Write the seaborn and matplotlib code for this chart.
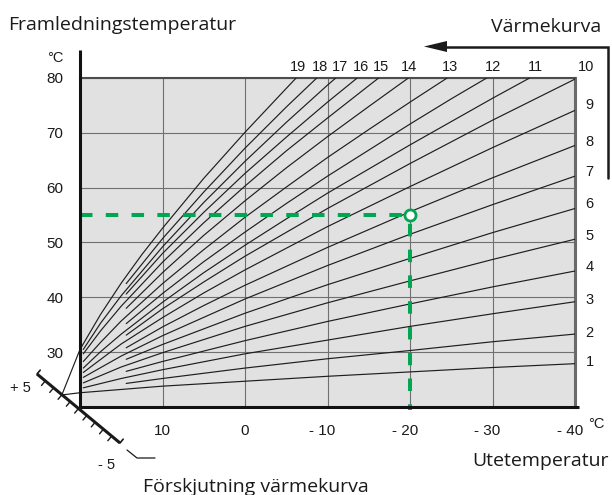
import matplotlib
matplotlib.use("Agg")
import matplotlib.pyplot as plt
import seaborn as sns
import pandas as pd
from matplotlib.transforms import ScaledTranslation
from matplotlib.patches import Polygon

# ---------------- data ----------------
k1_ute = [20, 15, 10, 0, -10, -20, -30, -40]
k1_fram = [22.6, 23.2, 23.8, 24.7, 25.6, 26.4, 27.2, 27.9]
k2_ute = [14.4, 10, 0, -10, -20, -30, -40]
k2_fram = [24.3, 25.2, 27.1, 28.8, 30.3, 31.9, 33.3]
k3_ute = [19.6, 15, 10, 0, -10, -20, -30, -40]
k3_fram = [23.5, 25.2, 26.8, 29.7, 32.2, 34.7, 37.0, 39.2]
k4_ute = [14.4, 10, 0, -10, -20, -30, -40]
k4_fram = [26.5, 28.3, 32.1, 35.6, 38.8, 41.9, 44.8]
k5_ute = [19.6, 15, 10, 0, -10, -20, -30, -40]
k5_fram = [24.4, 27.3, 29.9, 34.7, 39.0, 43.0, 46.9, 50.6]
k6_ute = [14.4, 10, 0, -10, -20, -30, -40]
k6_fram = [28.7, 31.4, 37.1, 42.3, 47.1, 51.8, 56.2]
k7_ute = [19.6, 15, 10, 0, -10, -20, -30, -40]
k7_fram = [25.4, 29.3, 33.0, 39.7, 45.8, 51.5, 56.9, 62.1]
k8_ute = [14.4, 10, 5, 0, -10, -20, -30, -40]
k8_fram = [30.8, 34.6, 38.5, 42.2, 49.1, 55.6, 61.8, 67.7]
k9_ute = [19.6, 15, 10, 5, 0, -10, -20, -30, -40]
k9_fram = [26.3, 31.5, 36.3, 40.8, 45.0, 52.9, 60.2, 67.3, 74.1]
k10_ute = [14.4, 10, 5, 0, -10, -20, -30, -40]
k10_fram = [33.1, 37.9, 42.8, 47.5, 56.2, 64.4, 72.3, 79.8]
k11_ute = [19.6, 17.5, 15, 10, 5, 0, -5, -10, -20, -30, -34.5]
k11_fram = [27.1, 30.1, 33.3, 39.1, 44.5, 49.5, 54.3, 59.0, 67.8, 76.3, 80]
k12_ute = [14.4, 10, 5, 0, -5, -10, -20, -25, -29.3]
k12_fram = [35.2, 40.7, 46.5, 51.9, 57.1, 62.1, 71.6, 76.2, 80]
k13_ute = [19.6, 17.5, 15, 10, 5, 0, -5, -10, -15, -20, -24.5]
k13_fram = [28.3, 31.8, 35.7, 42.5, 48.7, 54.6, 60.1, 65.5, 70.6, 75.6, 80]
k14_ute = [14.4, 10, 5, 0, -5, -10, -15, -19.8]
k14_fram = [38.0, 44.5, 51.3, 57.6, 63.6, 69.3, 74.8, 80]
k15_ute = [19.6, 17.5, 15, 10, 5, 0, -5, -10, -15, -16.2]
k15_fram = [29.7, 33.9, 38.4, 46.4, 53.6, 60.3, 66.7, 72.7, 78.6, 80]
k16_ute = [14.4, 10, 5, 0, -5, -10, -13.6]
k16_fram = [40.6, 48.0, 55.5, 62.6, 69.2, 75.6, 80]
k17_ute = [19.6, 17.5, 15, 10, 5, 0, -5, -10, -11]
k17_fram = [30.5, 35.3, 40.3, 49.2, 57.3, 64.8, 71.9, 78.7, 80]
k18_ute = [14.4, 10, 5, 0, -5, -8.7]
k18_fram = [42.5, 50.7, 59.2, 67.2, 74.7, 80]
k19_ute = [20, 17.5, 15, 12.5, 10, 5, 0, -5, -6.2]
k19_fram = [30.5, 36.9, 42.6, 47.8, 52.6, 61.7, 70.1, 78.1, 80]

kurva_nummer = list(range(1, 20))

ute_ticks = [10, 0, -10, -20, -30, -40]
ute_ticklabels = ["10", "0", "- 10", "- 20", "- 30", "- 40"]
fram_ticks = [30, 40, 50, 60, 70, 80]
fram_ticklabels = ["30", "40", "50", "60", "70", "80"]

topp_etiketter = [10, 11, 12, 13, 14, 15, 16, 17, 18, 19]
topp_etikett_ute = [-41.4, -35.2, -30.1, -24.8, -19.9, -16.5, -14.0, -11.55, -9.1, -6.45]
hoger_etiketter = [1, 2, 3, 4, 5, 6, 7, 8, 9]
hoger_etikett_fram = [28.2, 33.5, 39.6, 45.5, 51.1, 57.1, 62.8, 68.4, 75.1]

fokus_ute, fokus_fram = 22.2, 22.2      # offset point on the shift scale
punkt_ute, punkt_fram = -20, 55          # example reading (green)

# ---------------- build table ----------------
alla = [(k1_ute, k1_fram), (k2_ute, k2_fram), (k3_ute, k3_fram), (k4_ute, k4_fram),
        (k5_ute, k5_fram), (k6_ute, k6_fram), (k7_ute, k7_fram), (k8_ute, k8_fram),
        (k9_ute, k9_fram), (k10_ute, k10_fram), (k11_ute, k11_fram), (k12_ute, k12_fram),
        (k13_ute, k13_fram), (k14_ute, k14_fram), (k15_ute, k15_fram), (k16_ute, k16_fram),
        (k17_ute, k17_fram), (k18_ute, k18_fram), (k19_ute, k19_fram)]
rows = []
for nr, (xs, ys) in zip(kurva_nummer, alla):
    for x, y in zip(xs, ys):
        rows.append((nr, x, y))
df = pd.DataFrame(rows, columns=["kurva", "ute", "fram"])

# ---------------- style ----------------
sns.set_theme(style="white")
plt.rcParams["font.family"] = ["Liberation Sans", "DejaVu Sans"]

W, H = 612, 495
fig = plt.figure(figsize=(W / 100, H / 100), dpi=100)
fig.patch.set_facecolor("white")

def fx(px):
    return px / W

def fy(py):
    return 1 - py / H

ax = fig.add_axes([fx(80), fy(407), (575 - 80) / W, (407 - 78) / H])
ax.set_facecolor("#e1e1e1")

sns.lineplot(data=df, x="ute", y="fram", units="kurva", estimator=None, sort=False,
             color="#1e1e1e", linewidth=0.85, ax=ax, legend=False, zorder=3)

ax.set_xlim(20, -40)
ax.set_ylim(20, 80)
ax.set_xlabel("")
ax.set_ylabel("")
ax.set_xticks(ute_ticks, ute_ticklabels)
ax.set_yticks(fram_ticks, fram_ticklabels)
ax.grid(True, color="#707070", linewidth=0.8)
ax.set_axisbelow(True)
ax.tick_params(length=0, labelsize=11, colors="#1a1a1a")
ax.tick_params(axis="y", pad=12)
ax.tick_params(axis="x", pad=12)
for lab, t in zip(ax.get_xticklabels(), ute_ticks):
    if t < 0:
        lab.set_transform(lab.get_transform() + ScaledTranslation(-0.05, 0, fig.dpi_scale_trans))

for s in ["left", "bottom"]:
    ax.spines[s].set_visible(False)
ax.spines["top"].set_color("#4d4d4d")
ax.spines["top"].set_linewidth(1.5)
ax.spines["right"].set_color("#6a6a6a")
ax.spines["right"].set_linewidth(2.2)
ax.plot([0, 0], [-0.006, 1.085], transform=ax.transAxes, color="#111111", lw=2.2,
        clip_on=False, solid_capstyle="butt", zorder=8)
ax.plot([-0.003, 1.008], [0, 0], transform=ax.transAxes, color="#111111", lw=2.2,
        clip_on=False, solid_capstyle="butt", zorder=8)

# offset (shift) lines from focal point
ax.plot([k19_ute[0], fokus_ute], [k19_fram[0], fokus_fram], color="#1e1e1e", lw=0.85, clip_on=False, zorder=3)
ax.plot([k1_ute[0], fokus_ute], [k1_fram[0], fokus_fram], color="#1e1e1e", lw=0.85, clip_on=False, zorder=3)

# curve labels
for nr, x in zip(topp_etiketter, topp_etikett_ute):
    ax.text(x, 81.95, str(nr), ha="center", va="center", fontsize=10.5, color="#1a1a1a", clip_on=False)
for nr, y in zip(hoger_etiketter, hoger_etikett_fram):
    ax.text(-41.77, y, str(nr), ha="center", va="center", fontsize=10.5, color="#1a1a1a", clip_on=False)

# green example
GREEN = "#00a651"
ax.plot([20, punkt_ute], [punkt_fram, punkt_fram], color=GREEN, lw=2.9,
        linestyle=(0, (3.1, 3.3)), dash_capstyle="butt", zorder=6, clip_on=False)
ax.plot([punkt_ute, punkt_ute], [punkt_fram, 19.45], color=GREEN, lw=2.9,
        linestyle=(4.2, (3.1, 3.3)), dash_capstyle="butt", zorder=6, clip_on=False)
ax.plot([punkt_ute], [punkt_fram], marker="o", ms=8, mfc="white", mec=GREEN, mew=2,
        zorder=7, clip_on=False)

# ---------------- decorations in pixel space ----------------
axd = fig.add_axes([0, 0, 1, 1])
axd.set_xlim(0, W)
axd.set_ylim(H, 0)
axd.axis("off")
INK = "#1a1a1a"
# arrow "Värmekurva"
axd.plot([608, 608, 444], [178, 46.5, 46.5], color=INK, lw=1.8, solid_joinstyle="miter")
axd.add_patch(Polygon([[424, 46.5], [447, 41], [447, 52]], closed=True, color=INK, lw=0))
# shift scale
sx0, sy0, sx1, sy1 = 37, 374, 120, 443
axd.plot([sx0, sx1], [sy0, sy1], color=INK, lw=2.2, solid_capstyle="butt")
L = ((sx1 - sx0) ** 2 + (sy1 - sy0) ** 2) ** 0.5
ux, uy = (sx1 - sx0) / L, (sy1 - sy0) / L
nx, ny = -uy, ux
for i in range(11):
    t = i / 10
    px_, py_ = sx0 + t * (sx1 - sx0), sy0 + t * (sy1 - sy0)
    if i in (0, 10):
        axd.plot([px_, px_ - nx * 5], [py_, py_ - ny * 5], color=INK, lw=1.2)
    else:
        axd.plot([px_, px_ + nx * 6], [py_, py_ + ny * 6], color=INK, lw=1.0)
axd.plot([127, 137, 155], [450, 458, 458], color=INK, lw=0.9)

# ---------------- texts ----------------
TF = ["Open Sans", "DejaVu Sans"]
fig.text(fx(8), fy(29.5), "Framledningstemperatur", fontsize=14, family=TF, color=INK, va="baseline", ha="left")
fig.text(fx(601), fy(31.5), "Värmekurva", fontsize=14, family=TF, color=INK, va="baseline", ha="right")
fig.text(fx(609), fy(466.5), "Utetemperatur", fontsize=14, family=TF, color=INK, va="baseline", ha="right")
fig.text(fx(143), fy(491.5), "Förskjutning värmekurva", fontsize=14, family=TF, color=INK, va="baseline", ha="left")
fig.text(fx(63), fy(58), "°C", fontsize=10.5, color=INK, ha="right", va="center")
fig.text(fx(588), fy(424), "°C", fontsize=10.5, color=INK, ha="left", va="center")
fig.text(fx(20), fy(388), "+ 5", fontsize=10.5, color=INK, ha="center", va="center")
fig.text(fx(107), fy(465), "- 5", fontsize=10.5, color=INK, ha="center", va="center")

fig.savefig("out.png", dpi=100)
